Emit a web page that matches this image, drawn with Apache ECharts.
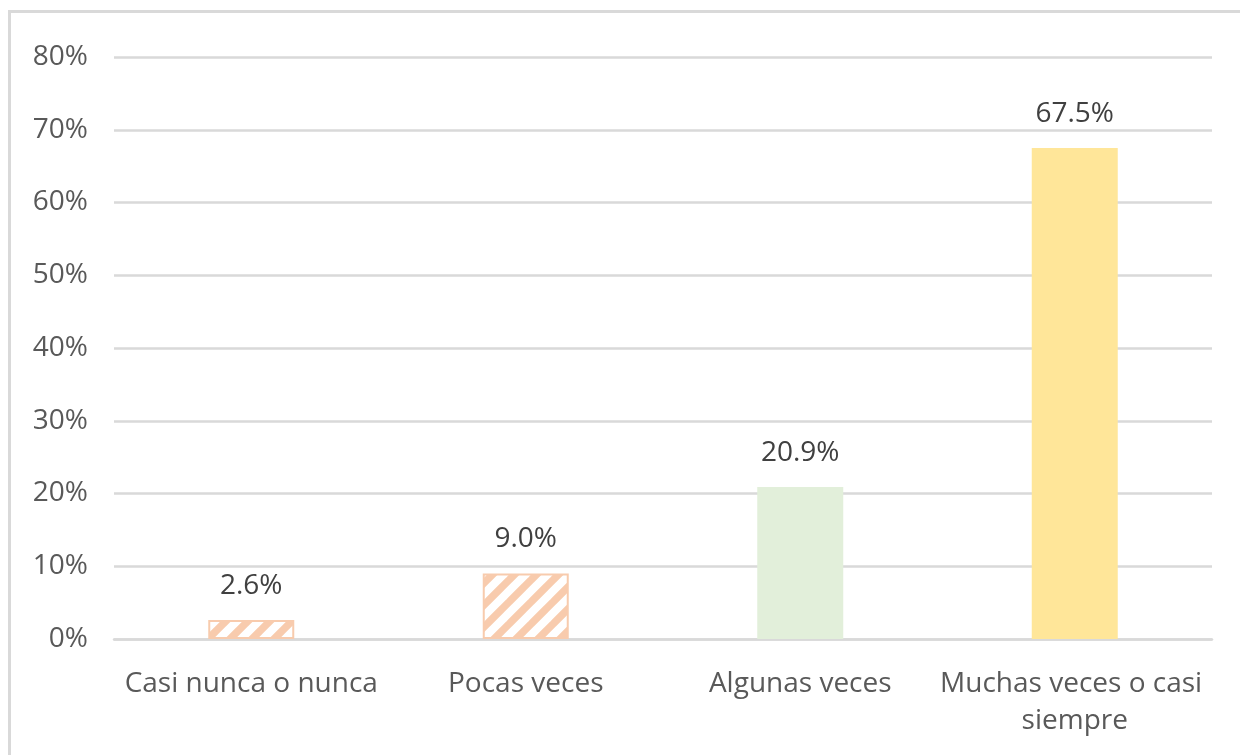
<!DOCTYPE html>
<html>
<head>
<meta charset="utf-8">
<script src="https://cdn.jsdelivr.net/npm/echarts@6/dist/echarts.min.js"></script>
<style>
html,body{margin:0;padding:0;background:#fff;}
#chart{width:1240px;height:755px;}
</style>
</head>
<body>
<div id="chart"></div>
<script>
const categories = ['Casi nunca o nunca', 'Pocas veces', 'Algunas veces', 'Muchas veces o casi siempre'];
const values = [2.6, 9.0, 20.9, 67.5];
const yTicks = [0, 10, 20, 30, 40, 50, 60, 70, 80];

const peach = '#F8CBAD';
function makeHatch() {
  const N = 22;
  const c = document.createElement('canvas');
  c.width = N; c.height = N;
  const g = c.getContext('2d');
  g.fillStyle = peach;
  g.fillRect(0, 0, N, N);
  g.strokeStyle = '#ffffff';
  g.lineWidth = 8;
  g.lineCap = 'square';
  for (const k of [0, N, 2 * N]) {
    g.beginPath();
    g.moveTo(-N, k + N);
    g.lineTo(k + N, -N);
    g.stroke();
  }
  return c;
}
const hatch = makeHatch();

const styles = [
  { color: { image: hatch, repeat: 'repeat' }, borderColor: peach, borderWidth: 2 },
  { color: { image: hatch, repeat: 'repeat' }, borderColor: peach, borderWidth: 2 },
  { color: '#E2EFDA' },
  { color: '#FFE699' }
];

const chart = echarts.init(document.getElementById('chart'), null, { renderer: 'canvas' });
const font = '"Open Sans", sans-serif';
chart.setOption({
  animation: false,
  backgroundColor: '#ffffff',
  graphic: [{
    type: 'rect',
    shape: { x: 9.5, y: 11.5, width: 1400, height: 900 },
    style: { fill: 'none', stroke: '#D9D9D9', lineWidth: 3 },
    silent: true
  }],
  grid: { left: 114, right: 28, top: 57, bottom: 116, containLabel: false },
  xAxis: {
    type: 'category',
    data: categories,
    axisLine: { show: true, lineStyle: { color: '#D9D9D9', width: 2.5 } },
    axisTick: { show: false },
    axisLabel: {
      color: '#595959', fontFamily: font, fontSize: 28, lineHeight: 37,
      margin: 27, width: 270, overflow: 'break', interval: 0
    }
  },
  yAxis: {
    type: 'value',
    min: yTicks[0], max: yTicks[yTicks.length - 1], interval: 10,
    axisLine: { show: false },
    axisTick: { show: false },
    splitLine: { lineStyle: { color: '#D9D9D9', width: 2.5 } },
    axisLabel: {
      color: '#595959', fontFamily: font, fontSize: 28, margin: 26,
      formatter: v => v + '%'
    }
  },
  series: [{
    type: 'bar',
    barWidth: 86,
    data: values.map((v, i) => ({ value: v, itemStyle: styles[i] })),
    label: {
      show: true, position: 'top', distance: 20,
      color: '#404040', fontFamily: font, fontSize: 28,
      formatter: p => p.value.toFixed(1) + '%'
    }
  }]
});
</script>
</body>
</html>
